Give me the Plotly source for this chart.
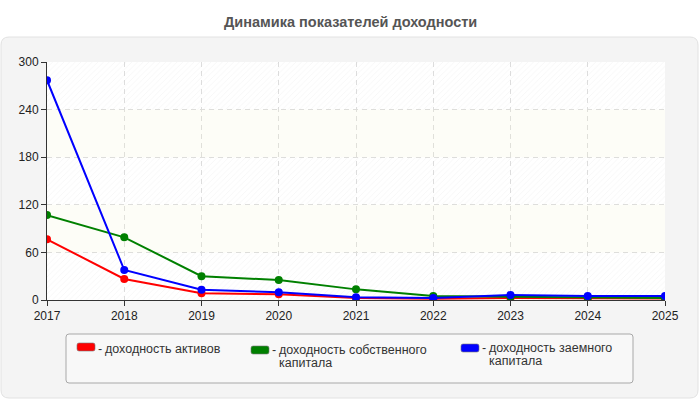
import plotly.graph_objects as go

years = [2017, 2018, 2019, 2020, 2021, 2022, 2023, 2024, 2025]
roa = [76.5, 26.5, 8.5, 7.1, 2.5, 1.5, 2.5, 2.0, 2.0]
roe = [107, 79, 30, 25.2, 13.4, 5.0, 4.0, 3.0, 2.5]
rod = [277, 37.8, 13, 9.7, 3.4, 2.5, 6.3, 5.0, 5.0]
names = [["доходность активов"], ["доходность собственного", "капитала"], ["доходность заемного", "капитала"]]
colors = ["#ff0000", "#008000", "#0000ff"]
title = "Динамика показателей доходности"
yticks = [0, 60, 120, 180, 240, 300]

FONT = "Liberation Sans, Arial"
fig = go.Figure()

# background bands (hatched / plain), transparent so gridlines show through
for i in range(len(yticks) - 1):
    lo, hi = yticks[i], yticks[i + 1]
    xs = [years[0], years[-1], years[-1], years[0], years[0]]
    ys = [lo, lo, hi, hi, lo]
    if i % 2 == 0:
        fig.add_trace(go.Scatter(
            x=xs, y=ys, mode="lines", line=dict(width=0),
            fill="toself", fillcolor="rgba(255,255,255,0)",
            fillpattern=dict(shape="/", fgcolor="rgba(200,200,200,0.35)", bgcolor="rgba(255,255,255,0)",
                             size=4, solidity=0.2),
            hoverinfo="skip", showlegend=False))
    else:
        fig.add_trace(go.Scatter(
            x=xs, y=ys, mode="lines", line=dict(width=0),
            fill="toself", fillcolor="rgba(240,240,200,0.15)",
            hoverinfo="skip", showlegend=False))

for vals, c, n in zip([roa, roe, rod], colors, names):
    fig.add_trace(go.Scatter(x=years, y=vals, mode="lines+markers", name=" ".join(n),
                             line=dict(color=c, width=2), marker=dict(color=c, size=8),
                             showlegend=False))

W, H = 618, 238
def px(x):
    return (x - 47) / W
def py(y):
    return (300 - y) / H

def rpath(x0, y0, x1, y1, r):
    rx, ry = r / W, r / H
    X0, X1 = px(x0), px(x1)
    Y0, Y1 = py(y1), py(y0)
    return (f"M {X0+rx},{Y0} L {X1-rx},{Y0} Q {X1},{Y0} {X1},{Y0+ry} "
            f"L {X1},{Y1-ry} Q {X1},{Y1} {X1-rx},{Y1} L {X0+rx},{Y1} "
            f"Q {X0},{Y1} {X0},{Y1-ry} L {X0},{Y0+ry} Q {X0},{Y0} {X0+rx},{Y0} Z")

shapes = [
    dict(type="path", xref="paper", yref="paper", path=rpath(1, 37, 698, 398, 8),
         fillcolor="#f4f4f4", line=dict(color="#e2e2e2", width=1), layer="below"),
    dict(type="rect", xref="paper", yref="paper", x0=0, x1=1, y0=0, y1=1,
         fillcolor="#ffffff", line=dict(width=0), layer="below"),
    dict(type="path", xref="paper", yref="paper", path=rpath(66, 334, 633, 383, 3),
         fillcolor="#f8f8f8", line=dict(color="#a8a8a8", width=1), layer="above"),
]
annotations = [dict(text=f"<b>{title}</b>", xref="paper", yref="paper", x=px(350), y=py(22),
                    showarrow=False, font=dict(size=14.5, color="#555555", family=FONT),
                    xanchor="center", yanchor="middle")]

# (swatch x, swatch y, first text line centre y)
leg = [(77, 343, 348.5), (251, 346, 349.5), (461, 344, 347.5)]
LF = dict(size=12.5, color="#333333", family=FONT)
for (lx, ly, ty), c, n in zip(leg, colors, names):
    shapes.append(dict(type="path", xref="paper", yref="paper", path=rpath(lx, ly, lx + 18, ly + 8, 2),
                       fillcolor=c, line=dict(color="#777777", width=0.6), layer="above"))
    annotations.append(dict(text="-", xref="paper", yref="paper", x=px(lx + 20), y=py(ty),
                            showarrow=False, xanchor="left", yanchor="middle", font=LF, borderpad=0))
    for k, line in enumerate(n):
        annotations.append(dict(text=line, xref="paper", yref="paper", x=px(lx + 27), y=py(ty + 13.5 * k),
                                showarrow=False, xanchor="left", yanchor="middle", font=LF, borderpad=0))

axis_common = dict(showgrid=True, gridcolor="#dddddd", griddash="5px,4px", showline=True,
                   linecolor="#333333", linewidth=1, ticks="outside", ticklen=5,
                   tickcolor="#333333", zeroline=False, tickfont=dict(size=12, color="#222222"))

fig.update_layout(
    width=700, height=400,
    margin=dict(l=47, r=35, t=62, b=100),
    paper_bgcolor="#ffffff", plot_bgcolor="#ffffff",
    font=dict(family=FONT, size=12, color="#222222"),
    shapes=shapes, annotations=annotations,
    xaxis=dict(range=[years[0], years[-1]], tickvals=years, **axis_common),
    yaxis=dict(range=[0, 300], tickvals=yticks, **axis_common),
    hovermode=False,
)

fig.write_html("out.html")
